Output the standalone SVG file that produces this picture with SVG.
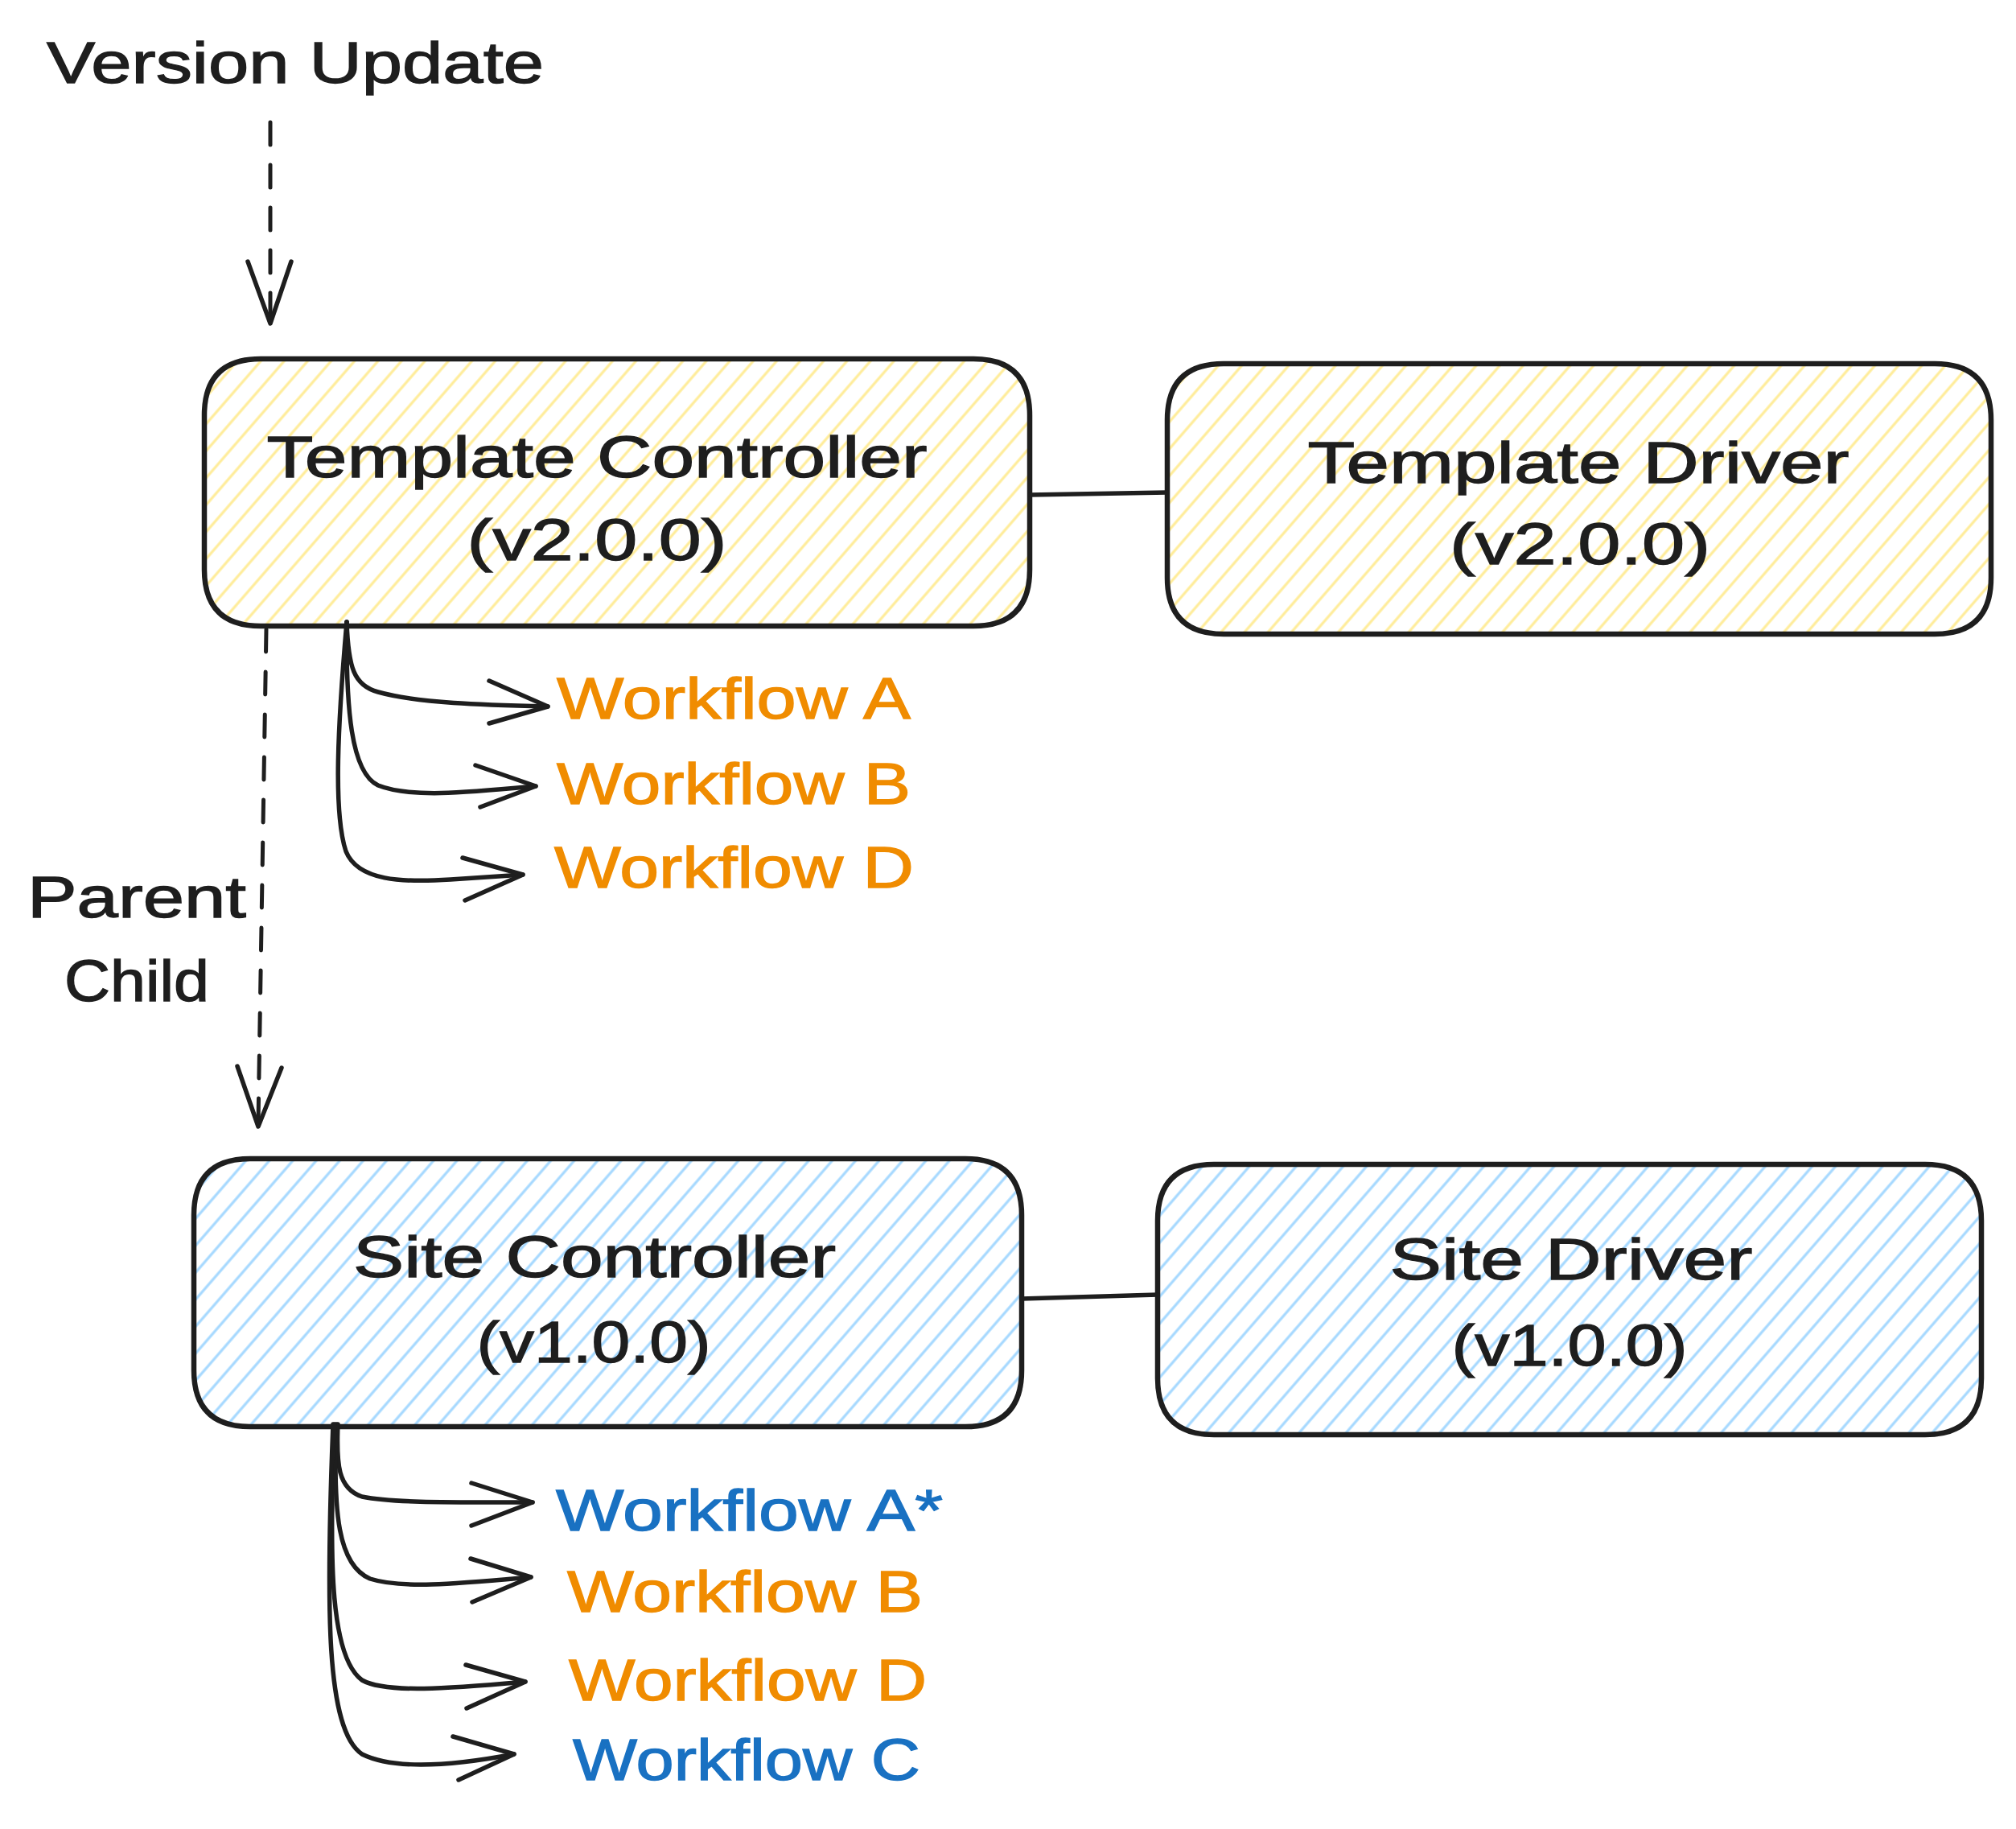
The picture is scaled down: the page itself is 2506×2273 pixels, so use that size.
<svg xmlns="http://www.w3.org/2000/svg" width="2506" height="2273" viewBox="0 0 2506 2273">
<defs>
<pattern id="hatchY" patternUnits="userSpaceOnUse" width="22" height="22" patternTransform="rotate(41)">
<line x1="11" y1="-2" x2="11" y2="24" stroke="#ffec99" stroke-width="3.2"/>
</pattern>
<pattern id="hatchB" patternUnits="userSpaceOnUse" width="22" height="22" patternTransform="rotate(41)">
<line x1="11" y1="-2" x2="11" y2="24" stroke="#a5d8ff" stroke-width="3.2"/>
</pattern>
<style>
.box{stroke:#1e1e1e;stroke-width:6.5;stroke-linejoin:round}
.t{font-family:"Liberation Sans",Arial,sans-serif;font-size:72px;fill:#1e1e1e;stroke:#1e1e1e;stroke-width:1.3}
.c{text-anchor:middle}
.or{fill:#f08c00;stroke:#f08c00}
.bl{fill:#1971c2;stroke:#1971c2}
.ln{fill:none;stroke:#1e1e1e;stroke-width:5.5;stroke-linecap:round;stroke-linejoin:round}
.dash{fill:none;stroke:#1e1e1e;stroke-width:5;stroke-linecap:round;stroke-dasharray:28 25}
</style>
</defs>
<rect width="2506" height="2273" fill="#ffffff"/>

<g id="version-update">
<text class="t" x="58" y="103" textLength="618" lengthAdjust="spacingAndGlyphs">Version Update</text>
</g>

<g id="template-controller">
<path class="box" fill="url(#hatchY)" d="M 324 446 L 1210 446 Q 1280 446 1280 516 L 1280 708 Q 1280 778 1210 778 L 324 778 Q 254 778 254 708 L 254 516 Q 254 446 324 446 Z"/>
<text class="t c" x="742" y="593" textLength="821" lengthAdjust="spacingAndGlyphs">Template Controller</text>
<text class="t c" x="742" y="696" textLength="323" lengthAdjust="spacingAndGlyphs">(v2.0.0)</text>
</g>

<g id="template-driver">
<path class="box" fill="url(#hatchY)" d="M 1521 452 L 2405 452 Q 2475 452 2475 522 L 2475 718 Q 2475 788 2405 788 L 1521 788 Q 1451 788 1451 718 L 1451 522 Q 1451 452 1521 452 Z"/>
<text class="t c" x="1962" y="600" textLength="673" lengthAdjust="spacingAndGlyphs">Template Driver</text>
<text class="t c" x="1964" y="701" textLength="324" lengthAdjust="spacingAndGlyphs">(v2.0.0)</text>
</g>

<g id="site-controller">
<path class="box" fill="url(#hatchB)" d="M 311 1440 L 1200 1440 Q 1270 1440 1270 1510 L 1270 1703 Q 1270 1773 1200 1773 L 311 1773 Q 241 1773 241 1703 L 241 1510 Q 241 1440 311 1440 Z"/>
<text class="t c" x="739" y="1587" textLength="600" lengthAdjust="spacingAndGlyphs">Site Controller</text>
<text class="t c" x="738" y="1693" textLength="291" lengthAdjust="spacingAndGlyphs">(v1.0.0)</text>
</g>

<g id="site-driver">
<path class="box" fill="url(#hatchB)" d="M 1509 1447 L 2393 1447 Q 2463 1447 2463 1517 L 2463 1713 Q 2463 1783 2393 1783 L 1509 1783 Q 1439 1783 1439 1713 L 1439 1517 Q 1439 1447 1509 1447 Z"/>
<text class="t c" x="1953" y="1590" textLength="451" lengthAdjust="spacingAndGlyphs">Site Driver</text>
<text class="t c" x="1951" y="1697" textLength="293" lengthAdjust="spacingAndGlyphs">(v1.0.0)</text>
</g>

<g id="parent-child-label">
<text class="t c" x="170" y="1140" textLength="272" lengthAdjust="spacingAndGlyphs">Parent</text>
<text class="t c" x="170" y="1244" textLength="180" lengthAdjust="spacingAndGlyphs">Child</text>
</g>

<g id="template-workflows">
<text class="t or" x="692" y="893" textLength="440" lengthAdjust="spacingAndGlyphs">Workflow A</text>
<text class="t or" x="692" y="999" textLength="440" lengthAdjust="spacingAndGlyphs">Workflow B</text>
<text class="t or" x="689" y="1103" textLength="447" lengthAdjust="spacingAndGlyphs">Workflow D</text>
</g>

<g id="site-workflows">
<text class="t bl" x="691" y="1902" textLength="481" lengthAdjust="spacingAndGlyphs">Workflow A*</text>
<text class="t or" x="705" y="2003" textLength="442" lengthAdjust="spacingAndGlyphs">Workflow B</text>
<text class="t or" x="707" y="2113" textLength="445" lengthAdjust="spacingAndGlyphs">Workflow D</text>
<text class="t bl" x="712" y="2212" textLength="432" lengthAdjust="spacingAndGlyphs">Workflow C</text>
</g>

<g id="connectors">
<path class="ln" d="M 1280 615 L 1451 612"/>
<path class="ln" d="M 1270 1614 L 1439 1609"/>
<path class="dash" d="M 336 152 L 336 398"/>
<path class="ln" d="M 308 325 L 336 402 L 362 325"/>
<path class="dash" d="M 331 782 L 321 1396"/>
<path class="ln" d="M 295 1325 L 321 1400 L 350 1327"/>
<path class="ln" d="M 431 773 C 433 830, 440 852, 470 860 C 520 874, 600 876, 681 878"/>
<path class="ln" d="M 608 846 L 681 878 L 608 899"/>
<path class="ln" d="M 431 773 C 430 880, 436 960, 470 976 C 510 992, 580 985, 666 977"/>
<path class="ln" d="M 591 951 L 666 977 L 597 1003"/>
<path class="ln" d="M 431 773 C 420 900, 414 1010, 430 1058 C 445 1095, 500 1097, 560 1093 L 650 1087"/>
<path class="ln" d="M 575 1066 L 650 1087 L 578 1119"/>
<path class="ln" d="M 420 1770 C 418 1820, 420 1850, 450 1860 C 490 1868, 560 1867, 662 1867"/>
<path class="ln" d="M 586 1843 L 662 1867 L 586 1896"/>
<path class="ln" d="M 418 1770 C 414 1880, 420 1945, 460 1962 C 500 1975, 570 1968, 660 1960"/>
<path class="ln" d="M 585 1937 L 660 1960 L 587 1991"/>
<path class="ln" d="M 416 1770 C 408 1950, 412 2060, 450 2088 C 480 2105, 560 2098, 653 2090"/>
<path class="ln" d="M 579 2069 L 653 2090 L 580 2123"/>
<path class="ln" d="M 414 1770 C 405 2000, 405 2150, 450 2180 C 490 2200, 560 2195, 639 2180"/>
<path class="ln" d="M 563 2158 L 639 2180 L 570 2212"/>
</g>
</svg>
